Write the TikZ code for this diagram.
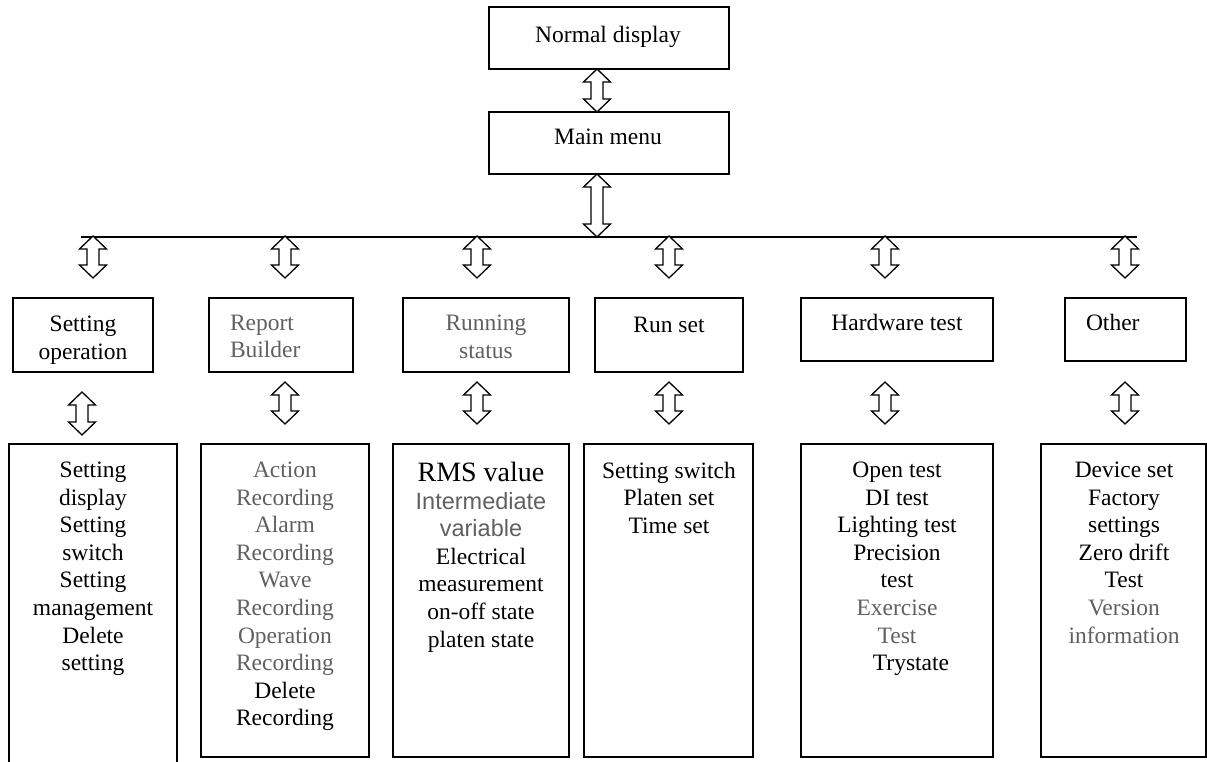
\documentclass[tikz,border=0pt]{standalone}
\usepackage{fontspec}
\setmainfont{Liberation Serif}
\setsansfont{Liberation Sans}
\usetikzlibrary{calc}
\definecolor{greytext}{RGB}{96,96,96}
\newcommand\udarrow[2]{%
  \draw[blockarrow] let \p1=#1, \p2=#2 in
   (\x1,\y1) -- (\x1+13.5pt,\y1-13pt) -- (\x1+6pt,\y1-13pt) -- (\x1+6pt,\y2+13pt)
   -- (\x1+13.5pt,\y2+13pt) -- (\x1,\y2) -- (\x1-13.5pt,\y2+13pt) -- (\x1-6pt,\y2+13pt)
   -- (\x1-6pt,\y1-13pt) -- (\x1-13.5pt,\y1-13pt) -- cycle;}
\begin{document}
\begin{tikzpicture}[x=1pt,y=-1pt,
  box/.style={draw, line width=1.6pt, inner sep=0pt, outer sep=0pt},
  lbl/.style={inner sep=0pt, outer sep=0pt, font=\fontsize{23.5pt}{27.6pt}\selectfont},
  grey/.style={text=greytext},
  blockarrow/.style={draw, fill=white, line width=1.3pt, line join=miter},
  busline/.style={draw, line width=1.3pt}]
\useasboundingbox[fill=white] (0,0) rectangle (1207,762);

% top boxes
\node[box, minimum width=240, minimum height=62] (nd) at (609,38) {};
\node[lbl, anchor=base] (ndt) at (608,42.5) {Normal display};
\node[box, minimum width=240, minimum height=62] (mm) at (609,143) {};
\node[lbl, anchor=base] (mmt) at (608,145) {Main menu};

% bus
\coordinate (busL) at (81,237);
\coordinate (busR) at (1137,237);
\draw[busline] (busL) -- (busR);

% middle boxes
\node[box, minimum width=140, minimum height=74] (M1) at (83,335) {};
\node[box, minimum width=144, minimum height=74] (M2) at (281,335) {};
\node[box, minimum width=166, minimum height=74] (M3) at (486,335) {};
\node[box, minimum width=148, minimum height=74] (M4) at (669,335) {};
\node[box, minimum width=192, minimum height=63] (M5) at (897,329.5) {};
\node[box, minimum width=121, minimum height=63] (M6) at (1125.5,329.5) {};

\node[lbl, align=center, anchor=north] (M1t) at (83,316) {Setting\\operation};
\node[lbl, grey, align=left, anchor=north west] (M2t) at (230,315) {Report\\Builder};
\node[lbl, grey, align=center, anchor=north] (M3t) at (486,315) {Running\\status};
\node[lbl, anchor=base] (M4t) at (669,332) {Run set};
\node[lbl, anchor=base] (M5t) at (897,330) {Hardware test};
\node[lbl, anchor=base west] (M6t) at (1086,330) {Other};

% bottom boxes
\node[box, minimum width=168, minimum height=330] (B1) at (93,609) {};
\node[box, minimum width=168, minimum height=313] (B2) at (285,600.5) {};
\node[box, minimum width=176, minimum height=313] (B3) at (481,600.5) {};
\node[box, minimum width=169, minimum height=313] (B4) at (668.5,600.5) {};
\node[box, minimum width=192, minimum height=313] (B5) at (897,600.5) {};
\node[box, minimum width=165, minimum height=313] (B6) at (1123.5,600.5) {};

\node[lbl, align=center, anchor=north] (B1t) at (93,462)
  {Setting\\display\\Setting\\switch\\Setting\\management\\Delete\\setting};
\node[lbl, grey, align=center, anchor=north] (B2t) at (285,462)
  {Action\\Recording\\Alarm\\Recording\\Wave\\Recording\\Operation\\Recording\\
   {\color{black}Delete}\\{\color{black}Recording}};
\node[lbl, align=center, anchor=north] (B3t) at (481,462)
  {{\fontsize{28pt}{27.6pt}\selectfont RMS value}\\{\sffamily\color{greytext}Intermediate}\\
   {\sffamily\color{greytext}variable}\\Electrical\\measurement\\on-off state\\platen state};
\node[lbl, align=center, anchor=north] (B4t) at (669,462)
  {Setting switch\\Platen set\\Time set};
\node[lbl, align=center, anchor=north] (B5t) at (897,462)
  {Open test\\DI test\\Lighting test\\Precision\\test\\{\color{greytext}Exercise}\\
   {\color{greytext}Test}\\\hspace*{28pt}Trystate};
\node[lbl, align=center, anchor=north] (B6t) at (1124,462)
  {Device set\\Factory\\settings\\Zero drift\\Test\\{\color{greytext}Version}\\
   {\color{greytext}information}};

% arrows top
\udarrow{($(nd.south)+(-12,0)$)}{($(mm.north)+(-12,0)$)}
\udarrow{($(mm.south)+(-12,0)$)}{($(mm.south |- busL)+(-12,0)$)}

% arrows bus -> middle boxes
\udarrow{($(B1.north |- busL)+(0,-1)$)}{($(B1.north |- M1.north)+(0,-20)$)}
\udarrow{($(B2.north |- busL)+(0,-1)$)}{($(B2.north |- M2.north)+(0,-20)$)}
\udarrow{($(B3.north |- busL)+(-4,-1)$)}{($(B3.north |- M3.north)+(-4,-20)$)}
\udarrow{($(B4.north |- busL)+(0.5,-1)$)}{($(B4.north |- M4.north)+(0.5,-20)$)}
\udarrow{($(B5.north |- busL)+(-12,-1)$)}{($(B5.north |- M5.north)+(-12,-20)$)}
\udarrow{($(B6.north |- busL)+(1.5,-1)$)}{($(B6.north |- M6.north)+(1.5,-20)$)}

% arrows middle -> bottom boxes
\udarrow{($(M1.south)+(-1,20)$)}{($(B1.north)+(0,-9)$)}
\udarrow{($(B2.north |- M2.south)+(0,10)$)}{($(B2.north)+(0,-20)$)}
\udarrow{($(B3.north |- M3.south)+(-4,10)$)}{($(B3.north)+(0,-20)$)}
\udarrow{($(B4.north |- M4.south)+(0.5,10)$)}{($(B4.north)+(0,-20)$)}
\udarrow{($(B5.north |- M5.south)+(-12,21)$)}{($(B5.north)+(0,-20)$)}
\udarrow{($(B6.north |- M6.south)+(1.5,21)$)}{($(B6.north)+(0,-20)$)}
\end{tikzpicture}
\end{document}
